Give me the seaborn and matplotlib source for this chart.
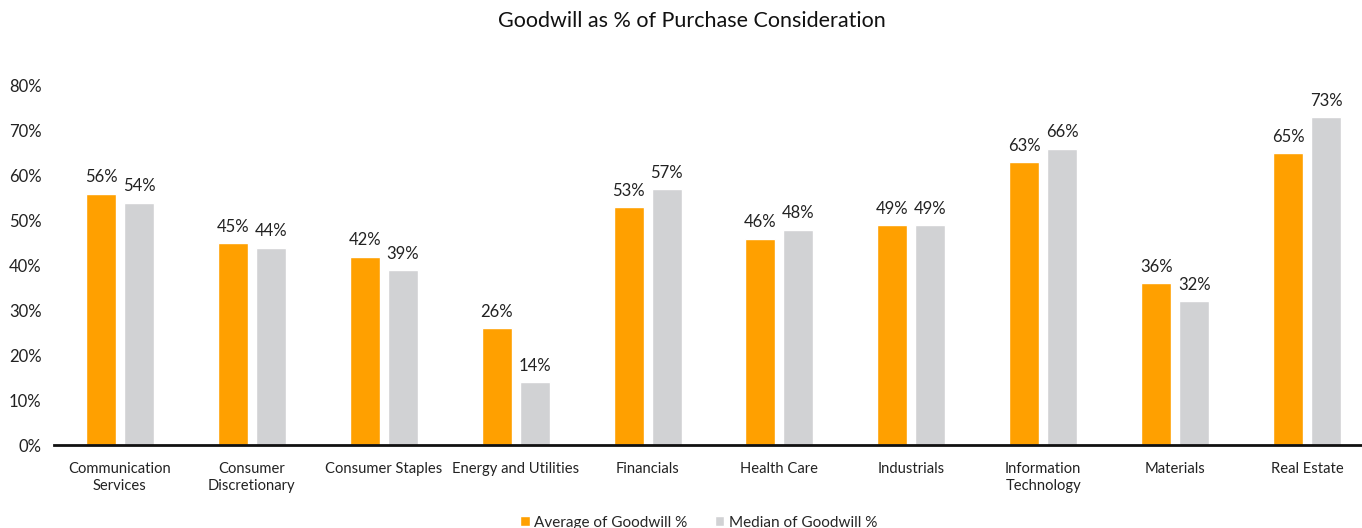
import matplotlib
matplotlib.use("Agg")
import matplotlib.pyplot as plt
import seaborn as sns
import pandas as pd
from matplotlib.ticker import PercentFormatter
from matplotlib.patches import Patch

categories = ["Communication\nServices", "Consumer\nDiscretionary", "Consumer Staples",
              "Energy and Utilities", "Financials", "Health Care", "Industrials",
              "Information\nTechnology", "Materials", "Real Estate"]
avg_values = [56, 45, 42, 26, 53, 46, 49, 63, 36, 65]
median_values = [54, 44, 39, 14, 57, 48, 49, 66, 32, 73]
series_names = ["Average of Goodwill %", "Median of Goodwill %"]
colors = ["#FFA000", "#D1D2D4"]

sns.set_theme(style="white")
plt.rcParams["font.family"] = ["Lato", "DejaVu Sans"]

df = pd.DataFrame({
    "category": categories * 2,
    "series": [series_names[0]] * len(categories) + [series_names[1]] * len(categories),
    "value": avg_values + median_values,
})

fig = plt.figure(figsize=(13.62, 5.28), dpi=100)
ax = fig.add_axes([54 / 1362, 1 - 445 / 528, 1319 / 1362, (445 - 86) / 528])

sns.barplot(data=df, x="category", y="value", hue="series", palette=colors,
            width=0.576, gap=0.21, ax=ax, legend=False, saturation=1)

for cont in ax.containers:
    ax.bar_label(cont, labels=[f"{v:.0f}%" for v in cont.datavalues],
                 padding=6, fontsize=12, color="#222222")

ax.set_ylim(0, 80)
ax.set_xlim(-0.5, len(categories) - 0.5)
ax.set_yticks(range(0, 81, 10))
ax.yaxis.set_major_formatter(PercentFormatter(decimals=0))
ax.tick_params(axis="y", labelsize=12, colors="#222222", pad=9, length=0)
ax.tick_params(axis="x", labelsize=10.6, colors="#222222", pad=12, length=0)
for lbl in ax.get_xticklabels():
    lbl.set_linespacing(1.3)
ax.set_xlabel("")
ax.set_ylabel("")
for s in ["top", "right", "left"]:
    ax.spines[s].set_visible(False)
ax.spines["bottom"].set_color("#111111")
ax.spines["bottom"].set_linewidth(2)

fig.suptitle("Goodwill as % of Purchase Consideration", x=0.508, y=0.98,
             fontsize=15.5, color="#111111")

handles = [Patch(facecolor=c, label=n) for c, n in zip(colors, series_names)]
fig.legend(handles=handles, loc="center", bbox_to_anchor=(0.513, 0.01), ncol=2,
           frameon=False, fontsize=11, handlelength=0.6, handleheight=0.6,
           handletextpad=0.3, columnspacing=1.8)

fig.savefig("out.png", dpi=100)
